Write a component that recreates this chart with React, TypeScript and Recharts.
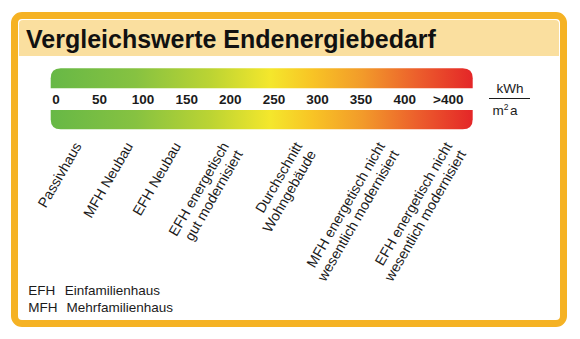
import { ScatterChart, Scatter, XAxis, YAxis, ReferenceArea } from "recharts";

// scale along the bar (kWh per m² and year)
const scaleValues = [0, 50, 100, 150, 200, 250, 300, 350, 400, 450];
const scaleLabels = ["0", "50", "100", "150", "200", "250", "300", "350", "400", ">400"];

// building types below the bar, one entry per label line
const buildingTypes = [
  ["Passivhaus"],
  ["MFH Neubau"],
  ["EFH Neubau"],
  ["EFH energetisch", "gut modernisiert"],
  ["Durchschnitt", "Wohngebäude"],
  ["MFH energetisch nicht", "wesentlich modernisiert"],
  ["EFH energetisch nicht", "wesentlich modernisiert"],
];
const buildingDemand = [30, 89, 144, 199, 283, 378, 455];

const abbreviations = ["EFH", "MFH"];
const abbreviationMeanings = ["Einfamilienhaus", "Mehrfamilienhaus"];

const FONT = "'Liberation Sans', Arial, Helvetica, sans-serif";

const buildingData = buildingTypes.map((lines, i) => ({
  x: buildingDemand[i],
  y: 0,
  lines,
}));

const ScaleTick = (props: any) => {
  const { x, y, payload } = props;
  const label = scaleLabels[scaleValues.indexOf(payload.value)];
  return (
    <text
      x={x}
      y={y - 25.6}
      textAnchor="middle"
      fontSize={13.5}
      fontWeight="bold"
      fontFamily={FONT}
      fill="#1b1b1b"
    >
      {label}
    </text>
  );
};

const BuildingLabel = (props: any) => {
  const { cx, cy, payload } = props;
  const x = cx;
  const y = cy + 16.5;
  return (
    <text
      transform={`rotate(-60 ${x} ${y})`}
      x={x}
      y={y}
      textAnchor="end"
      fontSize={14.2}
      fontFamily={FONT}
      fill="#1b1b1b"
    >
      {payload.lines.map((line: string, i: number) => (
        <tspan key={i} x={x} dy={i === 0 ? 0 : 16}>
          {line}
        </tspan>
      ))}
    </text>
  );
};

// band with the two outer corners rounded (top band: top corners, bottom band: bottom corners)
const band = (top: boolean) => (props: any) => {
  const { x, y, width: w, height: h } = props;
  const r = 10;
  const d = top
    ? `M${x},${y + h} L${x},${y + r} Q${x},${y} ${x + r},${y} L${x + w - r},${y} Q${x + w},${y} ${x + w},${y + r} L${x + w},${y + h} Z`
    : `M${x},${y} L${x + w},${y} L${x + w},${y + h - r} Q${x + w},${y + h} ${x + w - r},${y + h} L${x + r},${y + h} Q${x},${y + h} ${x},${y + h - r} Z`;
  return <path d={d} fill="url(#energyScale)" />;
};

export default function App() {
  return (
    <div
      style={{
        position: "absolute",
        left: 0,
        top: 0,
        width: 580,
        height: 339,
        background: "#fff",
      }}
    >
      <div
        style={{
          position: "absolute",
          left: 11,
          top: 12,
          width: 555.5,
          height: 315,
          boxSizing: "border-box",
          border: "7.5px solid #F5B224",
          borderRadius: 11,
          background: "#fff",
        }}
      />
      <div
        style={{
          position: "absolute",
          left: 18.5,
          top: 19.5,
          width: 540.5,
          height: 36.5,
          background: "#FADF9F",
          borderRadius: "4px 4px 0 0",
        }}
      />
      <div style={{ position: "absolute", left: 0, top: 0 }}>
        <ScatterChart
          width={580}
          height={339}
          margin={{ top: 68.3, right: 107.3, bottom: 208.7, left: 50.7 }}
        >
          <defs>
            <linearGradient id="energyScale" x1="0" y1="0" x2="1" y2="0">
              <stop offset="0%" stopColor="#67B846" />
              <stop offset="20%" stopColor="#86C241" />
              <stop offset="38%" stopColor="#BCD433" />
              <stop offset="52%" stopColor="#F4E72C" />
              <stop offset="62%" stopColor="#F8C425" />
              <stop offset="74%" stopColor="#F29A2A" />
              <stop offset="87%" stopColor="#EC5E2C" />
              <stop offset="100%" stopColor="#E42628" />
            </linearGradient>
          </defs>
          <YAxis type="number" dataKey="y" domain={[0, 61]} hide />
          <ReferenceArea x1={-6} x2={478} y1={41} y2={61} fillOpacity={1} shape={band(true)} />
          <ReferenceArea x1={-6} x2={478} y1={0} y2={19.3} fillOpacity={1} shape={band(false)} />
          <XAxis
            type="number"
            dataKey="x"
            domain={[-6, 478]}
            ticks={scaleValues}
            interval={0}
            height={1}
            axisLine={false}
            tickLine={false}
            tickSize={0}
            tickMargin={0}
            tick={<ScaleTick />}
          />
          <Scatter
            data={buildingData}
            shape={<BuildingLabel />}
            isAnimationActive={false}
          />
          <text x={26} y={47.6} fontSize={25} fontWeight="bold" fontFamily={FONT} fill="#111">
            Vergleichswerte Endenergiebedarf
          </text>
          <text x={510} y={93} textAnchor="middle" fontSize={13.5} fontFamily={FONT} fill="#1b1b1b">
            kWh
          </text>
          <line x1={489} x2={530} y1={98.5} y2={98.5} stroke="#1b1b1b" strokeWidth={1} />
          <text x={492.5} y={115} fontSize={13.5} fontFamily={FONT} fill="#1b1b1b">
            m
            <tspan dy={-5} fontSize={8.5}>2</tspan>
            <tspan dy={5} dx={1.5}>a</tspan>
          </text>
          {abbreviations.map((abbr, i) => (
            <text key={abbr} x={28.3} y={295 + i * 16.7} fontSize={13.5} fontFamily={FONT} fill="#1b1b1b">
              {abbr}
              <tspan dx={i === 0 ? 9.5 : 9}>{abbreviationMeanings[i]}</tspan>
            </text>
          ))}
        </ScatterChart>
      </div>
    </div>
  );
}
